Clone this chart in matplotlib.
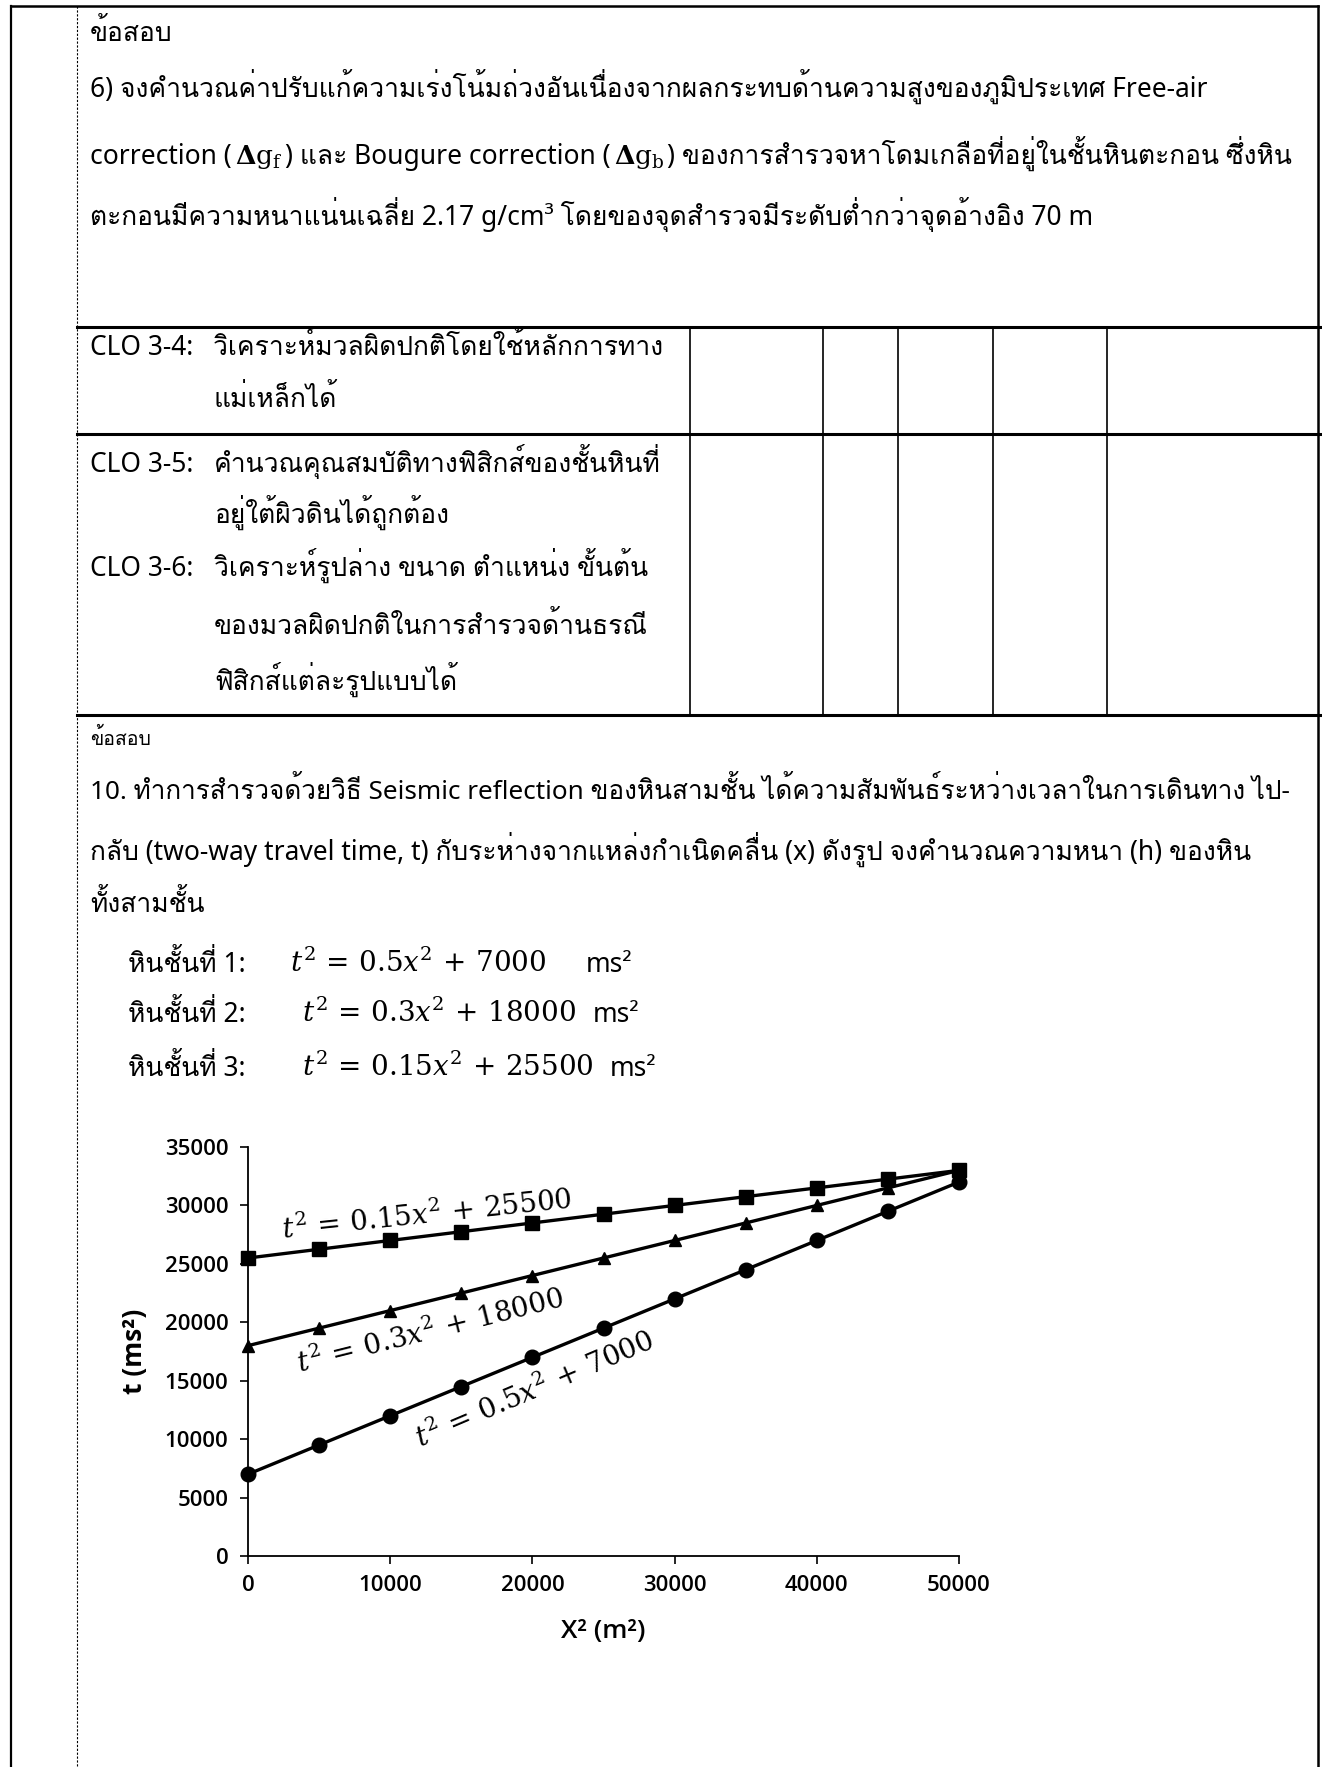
import matplotlib
matplotlib.use("Agg")

import matplotlib.pyplot as plt
from matplotlib import font_manager
from matplotlib.ft2font import FT2Font

# seismic reflection data: x^2 (m^2) against t^2 (ms^2) for three layers
x_sq = [0, 5000, 10000, 15000, 20000, 25000, 30000, 35000, 40000, 45000, 50000]
layer1 = [7000, 9500, 12000, 14500, 17000, 19500, 22000, 24500, 27000, 29500, 32000]
layer2 = [18000, 19500, 21000, 22500, 24000, 25500, 27000, 28500, 30000, 31500, 33000]
layer3 = [25500, 26250, 27000, 27750, 28500, 29250, 30000, 30750, 31500, 32250, 33000]

eq1 = r"$t^2\,=\,0.5x^2\,+\,7000$"
eq2 = r"$t^2\,=\,0.3x^2\,+\,18000$"
eq3 = r"$t^2\,=\,0.15x^2\,+\,25500$"

y_ticks = [0, 5000, 10000, 15000, 20000, 25000, 30000, 35000]
x_ticks = [0, 10000, 20000, 30000, 40000, 50000]


def thai_family():
    for entry in font_manager.fontManager.ttflist:
        try:
            cmap = FT2Font(entry.fname).get_charmap()
        except Exception:
            continue
        if 0x0E01 in cmap:
            return entry.name
    return None


thai = thai_family()
TEXT_FONT = ["Noto Sans", thai, "DejaVu Sans"] if thai else ["Noto Sans", "DejaVu Sans"]
plt.rcParams["mathtext.fontset"] = "dejavuserif"

W, H = 1322, 1767
fig = plt.figure(figsize=(W / 100, H / 100), dpi=100)
page = fig.add_axes([0, 0, 1, 1])
page.set_xlim(0, W)
page.set_ylim(H, 0)
page.axis("off")
renderer = fig.canvas.get_renderer()

BODY = 19


def put(x, y, s, size=BODY, **kw):
    return page.text(x, y, s, fontsize=size, family=TEXT_FONT, va="baseline",
                     ha="left", color="black", **kw)


def run(x, y, parts, size=BODY):
    # lay out text pieces one after another along a baseline
    for s, kind, gap in parts:
        if kind == "math":
            t = page.text(x, y, s, fontsize=size, va="baseline", ha="left")
        else:
            t = put(x, y, s, size)
        x += t.get_window_extent(renderer).width + gap
    return x


# page frame and table rules
page.plot([11, 11], [6, H], color="black", lw=1.6)
page.plot([1318, 1318], [6, H], color="black", lw=1.8)
page.plot([11, 1318], [6, 6], color="black", lw=1.8)
page.plot([77, 77], [6, H], color="black", lw=0.8, ls=(0, (2, 1.5)))
for yy in [327, 434, 715]:
    page.plot([77, 1322], [yy, yy], color="black", lw=2.2)
for xx in [690, 823, 898, 993, 1107]:
    page.plot([xx, xx], [327, 715], color="black", lw=1.2)

# first question
put(90, 41, "ข้อสอบ")
put(90, 97, "6) จงคำนวณค่าปรับแก้ความเร่งโน้มถ่วงอันเนื่องจากผลกระทบด้านความสูงของภูมิประเทศ Free-air")
run(90, 164, [
    ("correction (", "text", 3),
    (r"$\mathbf{\Delta}\mathrm{g}_\mathrm{f}$", "math", 3),
    (") และ Bougure correction (", "text", 3),
    (r"$\mathbf{\Delta}\mathrm{g}_\mathrm{b}$", "math", 3),
    (") ของการสำรวจหาโดมเกลือที่อยู่ในชั้นหินตะกอน ซึ่งหิน", "text", 0),
])
put(90, 225, "ตะกอนมีความหนาแน่นเฉลี่ย 2.17 g/cm³ โดยของจุดสำรวจมีระดับต่ำกว่าจุดอ้างอิง 70 m")

# learning outcome rows
put(90, 355, "CLO 3-4:")
put(214, 355, "วิเคราะห์มวลผิดปกติโดยใช้หลักการทาง")
put(214, 407, "แม่เหล็กได้")
put(90, 472, "CLO 3-5:")
put(214, 472, "คำนวณคุณสมบัติทางฟิสิกส์ของชั้นหินที่")
put(214, 523, "อยู่ใต้ผิวดินได้ถูกต้อง")
put(90, 576, "CLO 3-6:")
put(214, 576, "วิเคราะห์รูปล่าง ขนาด ตำแหน่ง ขั้นต้น")
put(214, 634, "ของมวลผิดปกติในการสำรวจด้านธรณี")
put(214, 690, "ฟิสิกส์แต่ละรูปแบบได้")

# second question
put(90, 745, "ข้อสอบ", size=14)
put(90, 799, "10. ทำการสำรวจด้วยวิธี Seismic reflection ของหินสามชั้น ได้ความสัมพันธ์ระหว่างเวลาในการเดินทาง ไป-", size=18.8)
put(90, 860, "กลับ (two-way travel time, t) กับระห่างจากแหล่งกำเนิดคลื่น (x) ดังรูป จงคำนวณความหนา (h) ของหิน")
put(90, 912, "ทั้งสามชั้น")

for yy, label, eq, ex, gap in [(972, "หินชั้นที่ 1:", eq1, 290, 40),
                               (1022, "หินชั้นที่ 2:", eq2, 302, 17),
                               (1076, "หินชั้นที่ 3:", eq3, 302, 16)]:
    put(128, yy, label)
    t = page.text(ex, yy, eq, fontsize=20, va="baseline", ha="left")
    put(ex + t.get_window_extent(renderer).width + gap, yy, "ms²")

# travel-time chart
ax = fig.add_axes([248 / W, 1 - 1556 / H, (959 - 248) / W, (1556 - 1147) / H])
ax.plot(x_sq, layer1, color="black", lw=2.4, marker="o", ms=10.5, clip_on=False, zorder=3)
ax.plot(x_sq, layer2, color="black", lw=2.4, marker="^", ms=9, clip_on=False, zorder=3)
ax.plot(x_sq, layer3, color="black", lw=2.4, marker="s", ms=10.5, clip_on=False, zorder=3)
ax.set_xlim(0, 50000)
ax.set_ylim(0, 35000)
ax.set_xticks(x_ticks)
ax.set_yticks(y_ticks)
for side in ["top", "right"]:
    ax.spines[side].set_visible(False)
for side in ["left", "bottom"]:
    ax.spines[side].set_linewidth(1.3)
ax.tick_params(direction="out", length=6, width=1.2, labelsize=16, pad=8)
for lab in ax.get_xticklabels() + ax.get_yticklabels():
    lab.set_family("Open Sans")
    lab.set_fontweight("semibold")
ax.set_ylabel("t (ms²)", fontsize=19, fontweight="bold", family="Open Sans", labelpad=12)
ax.set_xlabel("X² (m²)", fontsize=19, fontweight="semibold", family="Open Sans", labelpad=16)
ax.patch.set_alpha(0)

ax.text(12600, 29180, eq3, fontsize=20, rotation=6, ha="center", va="center")
ax.text(12800, 19170, eq2, fontsize=20, rotation=14, ha="center", va="center")
ax.text(20200, 14200, eq1, fontsize=20, rotation=23, ha="center", va="center")

fig.savefig("out.png", dpi=100)
plt.close(fig)
